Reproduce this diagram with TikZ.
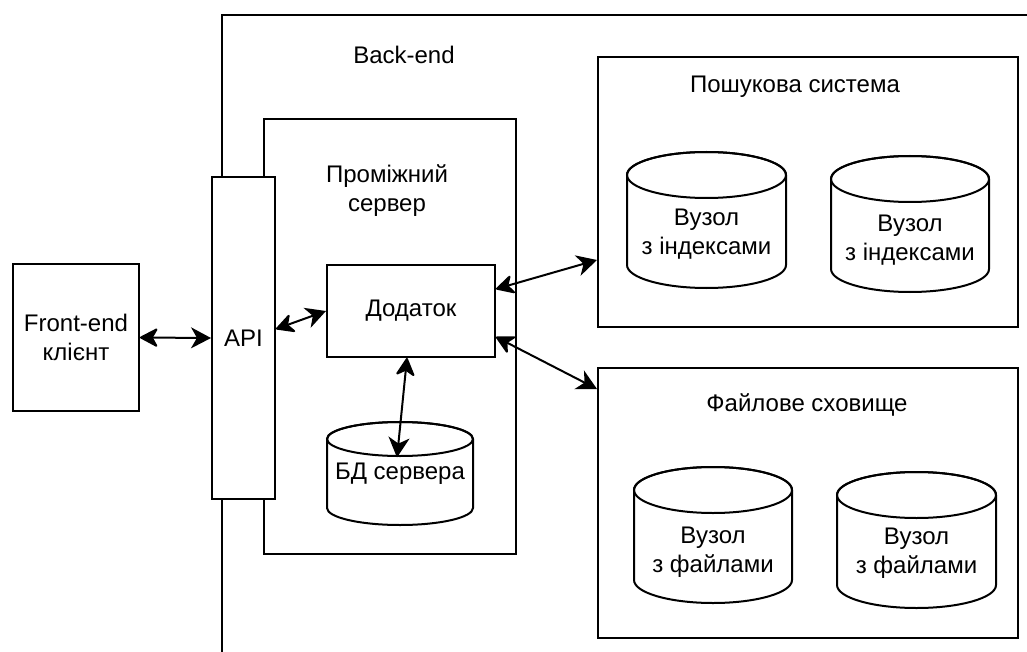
\documentclass[tikz,border=0pt]{standalone}
\usepackage{fontspec}
\setmainfont{Liberation Sans}
\usetikzlibrary{arrows.meta}
\tikzset{
  lw/.style={line width=2pt},
  box/.style={draw, lw, fill=white, inner sep=0pt, align=center},
  lbl/.style={align=center, inner sep=0pt},
  shapeline/.style={lw, fill=white},
  biarrow/.style={lw, {Stealth[length=20pt,width=21pt,inset=6pt,round=false]}-{Stealth[length=20pt,width=21pt,inset=6pt]}},
}
\newcommand\dbcyl[8]{% name L T R B ry text-dy text
  \pgfmathsetmacro\cylcx{(#2+#4)/2}
  \pgfmathsetmacro\cylhw{(#4-#2)/2}
  \draw[shapeline] (#2,{#3+#6}) -- (#2,{#5-#6})
     arc[start angle=180,end angle=360,x radius=\cylhw pt,y radius=#6pt]
     -- (#4,{#3+#6})
     arc[start angle=0,end angle=180,x radius=\cylhw pt,y radius=#6pt] -- cycle;
  \draw[lw] (\cylcx,{#3+#6}) ellipse[x radius=\cylhw pt,y radius=#6pt];
  \node[lbl] (#1) at (\cylcx,{(#3+#5)/2+#7}) {#8};
}
\begin{document}
\begin{tikzpicture}[x=1pt,y=-1pt,font=\fontsize{24}{29}\selectfont]
\useasboundingbox[fill=white] (0,0) rectangle (1027,652);
% Back-end frame (cut by the picture edges)
\draw[lw] (1040,15) -- (222,15) -- (222,670);
\node[lbl] (backlbl) at (404,55) {Back-end};
% intermediate server
\node[box, minimum width=252pt, minimum height=435pt] (server) at (390,336.5) {};
\node[lbl] (serverlbl) at (387,191) {Проміжний\\сервер};
% API
\node[box, minimum width=63pt, minimum height=322pt] (api) at (243.5,338) {API};
% application
\node[box, minimum width=168pt, minimum height=92pt] (app) at (411,311) {Додаток};
% server DB
\dbcyl{db}{327}{422}{473}{525}{17}{0}{БД сервера}
% search system
\node[box, minimum width=420pt, minimum height=270pt] (search) at (808,192) {};
\node[lbl] (searchlbl) at (795,87) {Пошукова система};
\dbcyl{idx1}{627}{152}{786}{288}{23}{14}{Вузол\\з індексами}
\dbcyl{idx2}{831}{156}{989}{292}{23}{16}{Вузол\\з індексами}
% file storage
\node[box, minimum width=420pt, minimum height=270pt] (files) at (808,503) {};
\node[lbl] (fileslbl) at (807,405) {Файлове сховище};
\dbcyl{file1}{634}{467}{792}{603}{23}{17}{Вузол\\з файлами}
\dbcyl{file2}{837}{472}{996}{608}{23}{13}{Вузол\\з файлами}
% front-end
\node[box, minimum width=126pt, minimum height=147pt] (front) at (76,337.5) {Front-end\\клієнт};
% connectors
\draw[biarrow] (front.east) -- (api.west);
\draw[biarrow] ([yshift=9pt]api.east) -- (app.west);
\draw[biarrow] ([yshift=22pt]app.east) -- ([yshift=-68pt]search.west);
\draw[biarrow] ([yshift=-26pt]app.east) -- ([yshift=114pt]files.west);
\draw[biarrow] ([xshift=-4pt]app.south) -- ([xshift=-3pt,yshift=16pt]db.center);
\end{tikzpicture}
\end{document}
